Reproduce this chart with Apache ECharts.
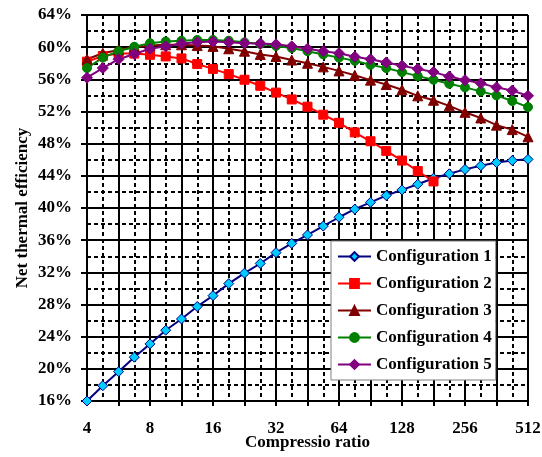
<!DOCTYPE html>
<html>
<head>
<meta charset="utf-8">
<script src="https://cdn.jsdelivr.net/npm/echarts@6/dist/echarts.min.js"></script>
<style>
html,body{margin:0;padding:0;background:#fff;overflow:hidden;}
#chart{width:542px;height:457px;}
</style>
</head>
<body>
<div id="chart"></div>
<script>
// Compression ratios (quarter-octave steps from 4 to 512)
const ratios = [4, 4.76, 5.66, 6.73, 8, 9.51, 11.31, 13.45, 16, 19.03, 22.63, 26.91, 32, 38.05, 45.25, 53.82, 64, 76.11, 90.51, 107.63, 128, 152.22, 181.02, 215.27, 256, 304.44, 362.04, 430.54, 512];
const xTickLabels = [4, 8, 16, 32, 64, 128, 256, 512];
const yTickLabels = ['16%', '20%', '24%', '28%', '32%', '36%', '40%', '44%', '48%', '52%', '56%', '60%', '64%'];

// Net thermal efficiency (%)
const config1 = [16.0, 17.9, 19.65, 21.45, 23.1, 24.8, 26.2, 27.75, 29.1, 30.6, 31.9, 33.1, 34.45, 35.6, 36.65, 37.75, 38.85, 39.85, 40.7, 41.55, 42.25, 42.95, 43.7, 44.25, 44.8, 45.25, 45.65, 45.9, 46.05];
const config2 = [58.2, 58.9, 59.2, 59.2, 59.05, 58.85, 58.6, 57.9, 57.3, 56.65, 55.95, 55.2, 54.35, 53.5, 52.6, 51.6, 50.6, 49.4, 48.3, 47.1, 45.9, 44.6, 43.3];
const config3 = [58.5, 59.25, 59.65, 60.0, 60.2, 60.3, 60.3, 60.2, 60.1, 59.8, 59.5, 59.1, 58.85, 58.4, 58.0, 57.55, 57.05, 56.5, 55.9, 55.35, 54.7, 53.95, 53.4, 52.7, 51.9, 51.2, 50.3, 49.75, 48.85];
const config4 = [57.4, 58.7, 59.5, 60.05, 60.5, 60.7, 60.8, 60.9, 60.9, 60.8, 60.6, 60.4, 60.15, 59.9, 59.5, 59.1, 58.7, 58.3, 57.8, 57.4, 56.9, 56.4, 55.95, 55.45, 55.0, 54.5, 54.0, 53.3, 52.55];
const config5 = [56.2, 57.4, 58.5, 59.15, 59.8, 60.1, 60.45, 60.6, 60.7, 60.6, 60.5, 60.45, 60.35, 60.1, 59.8, 59.5, 59.25, 58.8, 58.5, 58.1, 57.7, 57.3, 56.9, 56.35, 55.9, 55.5, 55.0, 54.6, 53.95];

const seriesNames = ['Configuration 1', 'Configuration 2', 'Configuration 3', 'Configuration 4', 'Configuration 5'];

const FONT = "'Liberation Serif', 'Times New Roman', serif";

function pairs(vals) {
  return vals.map((v, i) => [Math.log2(ratios[i]), v]);
}

const styles = [
  {line: '#000080', fill: '#00CCFF', border: '#000080', symbol: 'diamond', size: 10},
  {line: '#FF0000', fill: '#FF0000', border: '#FF0000', symbol: 'rect', size: 9},
  {line: '#800000', fill: '#800000', border: '#800000', symbol: 'triangle', size: 10},
  {line: '#008000', fill: '#008000', border: '#008000', symbol: 'circle', size: 9},
  {line: '#800080', fill: '#800080', border: '#800080', symbol: 'diamond', size: 11}
];
const allData = [config1, config2, config3, config4, config5];

const series = allData.map((d, k) => ({
  name: seriesNames[k],
  type: 'line',
  data: pairs(d),
  symbol: styles[k].symbol,
  symbolSize: styles[k].size,
  lineStyle: {color: styles[k].line, width: 2},
  itemStyle: {color: styles[k].fill, borderColor: styles[k].border, borderWidth: 1},
  emphasis: {disabled: true},
  animation: false
}));

const chart = echarts.init(document.getElementById('chart'), null, {renderer: 'canvas', width: 542, height: 457});
chart.setOption({
  animation: false,
  backgroundColor: '#fff',
  grid: {left: 87, top: 15, width: 441, height: 386, containLabel: false, outerBoundsMode: 'none'},
  xAxis: {
    type: 'value',
    min: 2, max: 9, interval: 0.5,
    name: 'Compressio ratio',
    nameLocation: 'middle',
    nameGap: 33,
    nameMoveOverlap: false,
    nameTextStyle: {fontFamily: FONT, fontWeight: 'bold', fontSize: 17, color: '#000'},
    axisLine: {show: true, lineStyle: {color: '#000', width: 2}},
    axisTick: {show: true, length: 5, lineStyle: {color: '#000', width: 2}},
    axisLabel: {
      margin: 19,
      fontFamily: FONT, fontWeight: 'bold', fontSize: 17, color: '#000',
      formatter: function (v) {
        const idx = Math.round(v) - 2;
        return Number.isInteger(v) && idx >= 0 && idx < xTickLabels.length ? String(xTickLabels[idx]) : '';
      }
    },
    splitLine: {show: true, lineStyle: {color: '#000', width: 2}},
    minorTick: {show: false, splitNumber: 2},
    minorSplitLine: {show: true, lineStyle: {color: '#000', width: 2, type: [4, 3]}}
  },
  yAxis: {
    type: 'value',
    min: 16, max: 64, interval: 4,
    name: 'Net thermal efficiency',
    nameLocation: 'middle',
    nameGap: 56,
    nameMoveOverlap: false,
    nameTextStyle: {fontFamily: FONT, fontWeight: 'bold', fontSize: 17, color: '#000'},
    axisLine: {show: true, lineStyle: {color: '#000', width: 2}},
    axisTick: {show: true, length: 6, lineStyle: {color: '#000', width: 2}},
    axisLabel: {
      margin: 15,
      fontFamily: FONT, fontWeight: 'bold', fontSize: 17, color: '#000',
      formatter: function (v) {
        const idx = Math.round((v - 16) / 4);
        return yTickLabels[idx] || '';
      }
    },
    splitLine: {show: true, lineStyle: {color: '#000', width: 2}},
    minorTick: {show: false, splitNumber: 2},
    minorSplitLine: {show: true, lineStyle: {color: '#000', width: 2, type: [4, 3]}}
  },
  legend: {
    data: seriesNames,
    orient: 'vertical',
    left: 331,
    top: 241,
    padding: [7, 4, 7, 6],
    itemWidth: 33,
    itemHeight: 11,
    itemGap: 10,
    backgroundColor: '#fff',
    borderColor: '#808080',
    borderWidth: 1,
    textStyle: {fontFamily: FONT, fontWeight: 'bold', fontSize: 17, color: '#000', lineHeight: 17}
  },
  series: series
});
</script>
</body>
</html>
